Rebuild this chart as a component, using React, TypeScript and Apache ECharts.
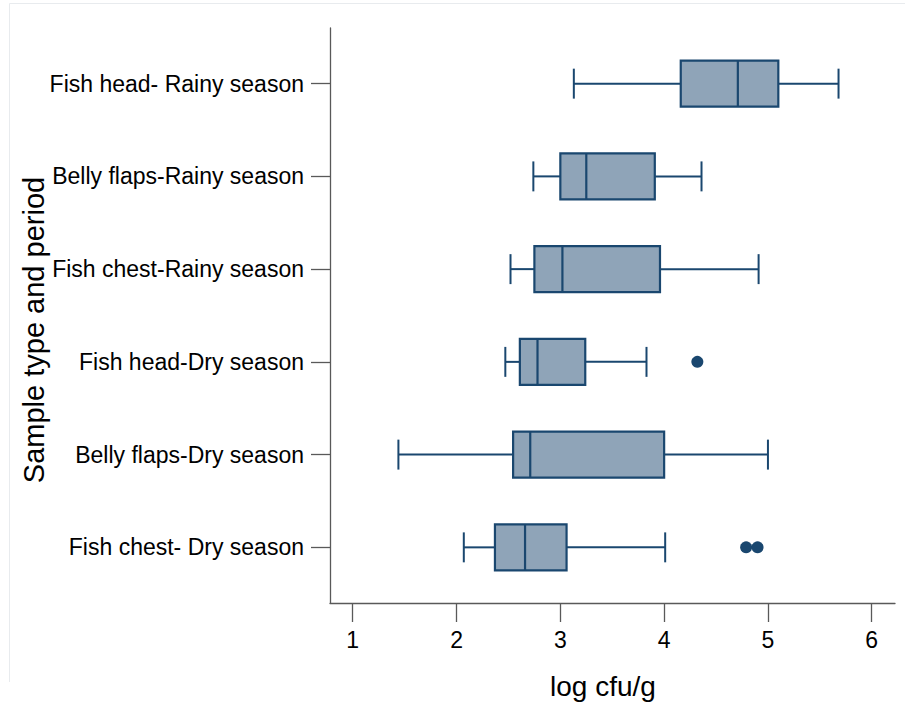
import React, { useEffect, useRef } from "react";
import * as echarts from "echarts";

const categories = [
  "Fish chest- Dry season",
  "Belly flaps-Dry season",
  "Fish head-Dry season",
  "Fish chest-Rainy season",
  "Belly flaps-Rainy season",
  "Fish head- Rainy season",
];
// [low whisker, Q1, median, Q3, high whisker] per category (bottom to top)
const lowWhisker = [2.07, 1.44, 2.47, 2.52, 2.74, 3.13];
const q1Values = [2.37, 2.545, 2.61, 2.75, 3.0, 4.16];
const medianValues = [2.66, 2.71, 2.78, 3.02, 3.25, 4.71];
const q3Values = [3.06, 4.0, 3.24, 3.96, 3.91, 5.1];
const highWhisker = [4.01, 5.0, 3.83, 4.91, 4.36, 5.68];
// outliers: [value, category position (1 = bottom)]
const outlierValues = [4.79, 4.9, 4.32];
const outlierCategory = [1, 1, 3];
const xTicks = [1, 2, 3, 4, 5, 6];
const xTitle = "log cfu/g";
const yTitle = "Sample type and period";

const NAVY = "#1A476F";
const FILL = "#8FA4B8";
const AXIS = "#595959";
const FONT = "'Liberation Sans', Arial, Helvetica, sans-serif";

export default function App() {
  const ref = useRef<HTMLDivElement>(null);
  useEffect(() => {
    document.body.style.margin = "0";
    const chart = echarts.init(ref.current!, null, { renderer: "svg" });
    const boxData = categories.map((_, i) => [
      i + 1,
      lowWhisker[i],
      q1Values[i],
      medianValues[i],
      q3Values[i],
      highWhisker[i],
    ]);
    const outliers = outlierValues.map((v, i) => [v, outlierCategory[i]]);
    const yTicks = categories.map((_, i) => i + 1);
    chart.setOption({
      animation: false,
      backgroundColor: "#ffffff",
      textStyle: { fontFamily: FONT },
      graphic: [
        {
          type: "polyline",
          shape: { points: [[9.5, 682], [9.5, 3.5], [905, 3.5]] },
          style: { stroke: "#e8ebee", fill: "none", lineWidth: 1 },
          silent: true,
        },
        {
          type: "text",
          x: 603,
          y: 686,
          style: {
            text: xTitle,
            fontSize: 28,
            fontFamily: FONT,
            fill: "#000",
            align: "center",
            verticalAlign: "middle",
          },
          silent: true,
        },
        {
          type: "text",
          x: 34,
          y: 330,
          rotation: Math.PI / 2,
          style: {
            text: yTitle,
            fontSize: 29,
            fontFamily: FONT,
            fill: "#000",
            align: "center",
            verticalAlign: "middle",
          },
          silent: true,
        },
      ],
      grid: { left: 330, right: 10, top: 28, bottom: 100, containLabel: false },
      xAxis: {
        type: "value",
        min: 0.781,
        max: 6.224,
        splitLine: { show: false },
        axisLine: { show: true, onZero: false, lineStyle: { color: AXIS, width: 1.3 } },
        axisTick: { show: true, length: 19, customValues: xTicks, lineStyle: { color: AXIS, width: 1.3 } },
        axisLabel: { customValues: xTicks, margin: 25, fontSize: 23, color: "#000", fontFamily: FONT },
      },
      yAxis: {
        type: "value",
        min: 0.4,
        max: 6.6,
        splitLine: { show: false },
        axisLine: { show: true, onZero: false, lineStyle: { color: AXIS, width: 1.3 } },
        axisTick: { show: true, length: 19, customValues: yTicks, lineStyle: { color: AXIS, width: 1.3 } },
        axisLabel: {
          customValues: yTicks,
          margin: 26,
          fontSize: 23,
          color: "#000",
          fontFamily: FONT,
          formatter: (v: number) => categories[Math.round(v) - 1] ?? "",
        },
      },
      series: [
        {
          type: "custom",
          data: boxData,
          encode: { x: [1, 2, 3, 4, 5], y: 0 },
          renderItem: (params: any, api: any) => {
            const y = api.value(0);
            const unit = api.size([0, 1])[1];
            const bh = (unit * 0.496) / 2;
            const ch = (unit * 0.323) / 2;
            const pLow = api.coord([api.value(1), y]);
            const pQ1 = api.coord([api.value(2), y]);
            const pMed = api.coord([api.value(3), y]);
            const pQ3 = api.coord([api.value(4), y]);
            const pHigh = api.coord([api.value(5), y]);
            const cy = pLow[1];
            const ls = { stroke: NAVY, lineWidth: 2 };
            return {
              type: "group",
              children: [
                { type: "line", shape: { x1: pLow[0], y1: cy, x2: pQ1[0], y2: cy }, style: ls },
                { type: "line", shape: { x1: pQ3[0], y1: cy, x2: pHigh[0], y2: cy }, style: ls },
                { type: "line", shape: { x1: pLow[0], y1: cy - ch, x2: pLow[0], y2: cy + ch }, style: ls },
                { type: "line", shape: { x1: pHigh[0], y1: cy - ch, x2: pHigh[0], y2: cy + ch }, style: ls },
                {
                  type: "rect",
                  shape: { x: pQ1[0], y: cy - bh, width: pQ3[0] - pQ1[0], height: 2 * bh },
                  style: { fill: FILL, stroke: NAVY, lineWidth: 2.2 },
                },
                { type: "line", shape: { x1: pMed[0], y1: cy - bh, x2: pMed[0], y2: cy + bh }, style: { stroke: NAVY, lineWidth: 2.2 } },
              ],
            };
          },
        },
        {
          type: "scatter",
          data: outliers,
          symbol: "circle",
          symbolSize: 12,
          itemStyle: { color: NAVY, opacity: 1 },
        },
      ],
    });
    return () => chart.dispose();
  }, []);
  return (
    <div
      ref={ref}
      style={{ position: "fixed", left: 0, top: 0, width: 905, height: 703 }}
    />
  );
}
